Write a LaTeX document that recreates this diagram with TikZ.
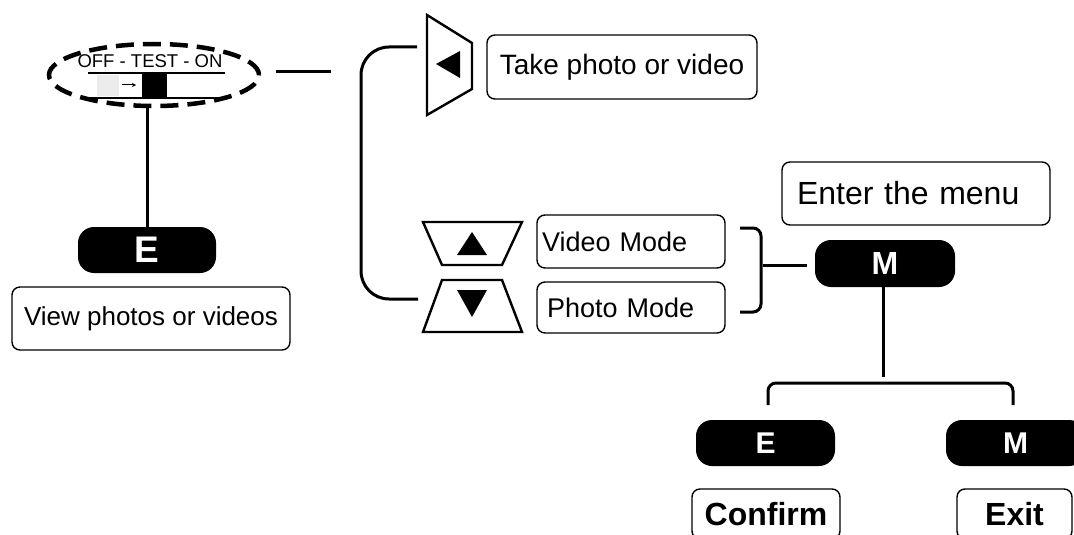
\documentclass[tikz,border=0pt]{standalone}
\usepackage{fontspec}
\setmainfont{Liberation Sans}
\usetikzlibrary{shapes.geometric,arrows.meta}
\begin{document}
\begin{tikzpicture}[x=1pt,y=-1pt,
  box/.style={draw, line width=1.4pt, rounded corners=8pt, inner sep=0pt, fill=white, font=\fontsize{27}{30}\selectfont},
  btn/.style={fill=black, rounded corners=16pt, text=white, inner sep=0pt, font=\bfseries\fontsize{32}{34}\selectfont},
  conn/.style={line width=3pt},
  keyshape/.style={draw, line width=2.4pt, line join=miter},
  arrowfill/.style={fill=black}]
\useasboundingbox (0,0) rectangle (1074,535);
\clip (0,0) rectangle (1074,535);
\fill[white] (0,0) rectangle (1074,535);

% switch
\node[draw, ellipse, dash pattern=on 18pt off 9pt, line width=4.5pt, minimum width=210pt, minimum height=62pt, inner sep=0pt] (sw) at (154,75) {};
\node[inner sep=0pt, font=\fontsize{18.5}{20}\selectfont] (swt) at (150,61) {OFF - TEST - ON};
\fill[gray!15] (97,75) rectangle (119,96);
\fill[black] (142,73) rectangle (167,98);
\draw[line width=2.6pt] (88,73) -- (225,73);
\draw[line width=2.6pt] (88,98) -- (225,98);
\coordinate (ar1) at (122,85);
\coordinate (ar2) at (136,85);
\draw[line width=1pt, -{Stealth[length=4pt,width=4pt]}] (ar1) -- (ar2);

% left column
\node[btn, minimum width=138pt, minimum height=46pt, font=\bfseries\fontsize{37}{38}\selectfont] (e1) at (147,250) {E};
\node[box, minimum width=278pt, minimum height=63pt, font=\fontsize{26}{28}\selectfont] (view) at (151,318.5) {View photos or videos};
\draw[conn] (e1.north) -- (e1.north |- sw.south);

% link to bracket
\coordinate (l1) at (276,72);
\coordinate (l2) at (331,72);
\draw[conn] (l1) -- (l2);
\coordinate (bt) at (417,47);
\coordinate (bb) at (418,299);
\draw[conn, rounded corners=28pt] (bt) -- (361,47) -- (361,299) -- (bb);

% left key
\draw[keyshape] (427,15) -- (472,43) -- (472,89) -- (427,115) -- cycle;
\fill[arrowfill] (436,64) -- (460,51) -- (460,78) -- cycle;
\node[box, minimum width=270pt, minimum height=64pt, font=\fontsize{28}{30}\selectfont] (take) at (622,67) {Take photo or video};

% up / down keys
\draw[keyshape] (423,222) -- (522,222) -- (502,265) -- (442,265) -- cycle;
\fill[arrowfill] (472,232) -- (487,255) -- (457,255) -- cycle;
\draw[keyshape] (442,280) -- (502,280) -- (522,332) -- (423,332) -- cycle;
\fill[arrowfill] (457,290) -- (487,290) -- (472,317) -- cycle;

\node[box, minimum width=188pt, minimum height=53pt, text width=178pt, inner xsep=5pt, align=left] (video) at (631,241.5) {Video Mode};
\node[box, minimum width=188pt, minimum height=51pt, text width=168pt, inner xsep=10pt, align=left] (photo) at (631,307.5) {Photo Mode};

% right bracket and M
\coordinate (rb1) at (740,228);
\coordinate (rb2) at (740,312);
\draw[conn, rounded corners=8pt] (rb1) -- (761,228) -- (761,312) -- (rb2);
\node[btn, minimum width=140pt, minimum height=47pt] (m1) at (885,263.5) {M};
\coordinate (ml) at (763,265);
\draw[conn] (ml) -- (807,265);
\node[box, minimum width=268pt, minimum height=63pt, text width=238pt, inner xsep=15pt, align=left, font=\fontsize{32}{34}\selectfont] (menu) at (916,193.5) {Enter the menu};

% bottom tree
\coordinate (mb) at (883,377);
\draw[conn] (m1.south -| mb) -- (mb);
\coordinate (bl) at (768,405);
\coordinate (br) at (1013,405);
\draw[conn, rounded corners=8pt] (bl) -- (768,383) -- (1013,383) -- (br);
\node[btn, minimum width=139pt, minimum height=46pt, font=\bfseries\fontsize{30}{32}\selectfont] (e2) at (765.5,443) {E};
\node[btn, minimum width=139pt, minimum height=46pt, font=\bfseries\fontsize{30}{32}\selectfont] (m2) at (1015.5,443) {M};
\node[box, minimum width=148pt, minimum height=50pt, font=\bfseries\fontsize{32}{34}\selectfont] (confirm) at (766,514) {Confirm};
\node[box, minimum width=115pt, minimum height=50pt, font=\bfseries\fontsize{32}{34}\selectfont] (exit) at (1014.5,514) {Exit};
\end{tikzpicture}
\end{document}
